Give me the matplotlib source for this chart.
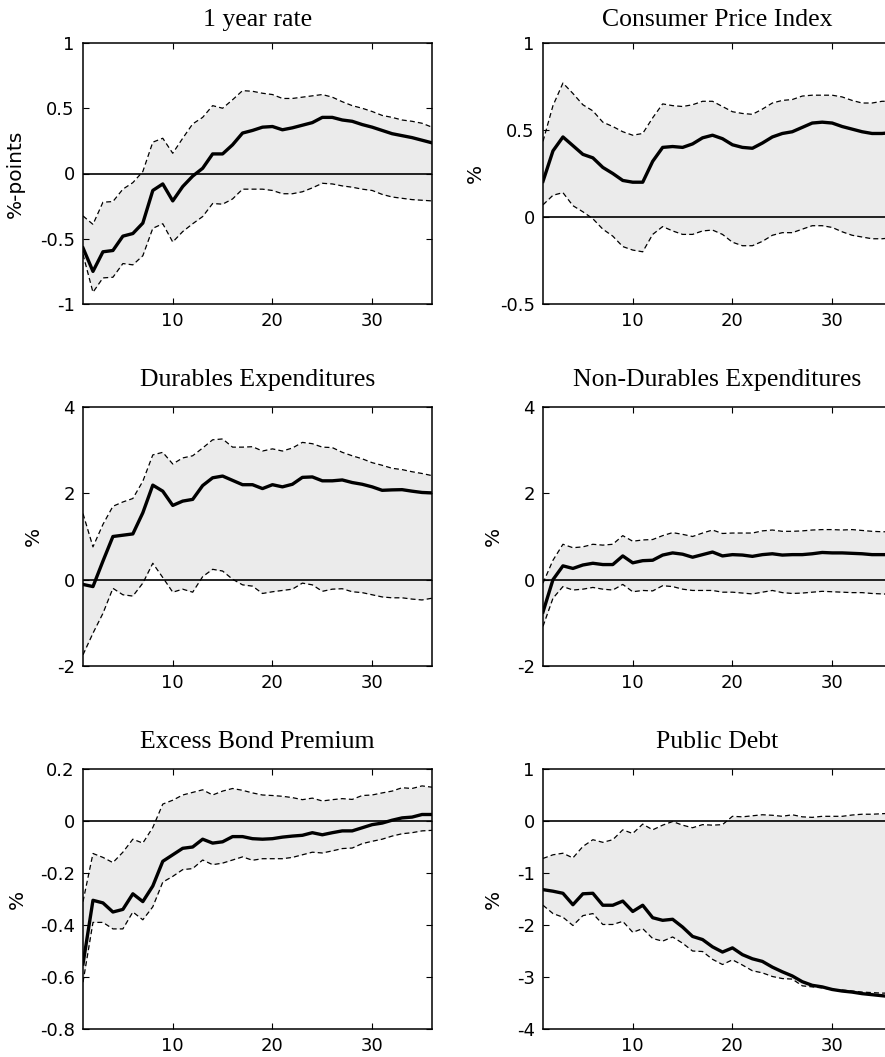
import numpy as np
import matplotlib
matplotlib.use("Agg")
import matplotlib.pyplot as plt

plt.rcParams["axes.unicode_minus"] = False

horizon = np.arange(1, 37)

rate_mid = [-0.57, -0.75, -0.60, -0.59, -0.48, -0.46, -0.38, -0.13, -0.08, -0.21, -0.10, -0.02,
            0.04, 0.15, 0.15, 0.22, 0.31, 0.33, 0.355, 0.36, 0.335, 0.35, 0.37, 0.39,
            0.43, 0.43, 0.41, 0.40, 0.375, 0.355, 0.33, 0.305, 0.29, 0.275, 0.255, 0.235]
rate_hi = [-0.325, -0.39, -0.22, -0.215, -0.12, -0.07, 0.015, 0.24, 0.27, 0.155, 0.27, 0.38,
           0.43, 0.52, 0.50, 0.565, 0.635, 0.63, 0.615, 0.605, 0.575, 0.575, 0.585, 0.595,
           0.605, 0.585, 0.55, 0.52, 0.50, 0.475, 0.445, 0.43, 0.41, 0.40, 0.385, 0.355]
rate_lo = [-0.62, -0.91, -0.80, -0.795, -0.69, -0.70, -0.63, -0.42, -0.385, -0.525, -0.445, -0.385,
           -0.33, -0.23, -0.235, -0.195, -0.12, -0.12, -0.12, -0.13, -0.155, -0.155, -0.14, -0.11,
           -0.075, -0.08, -0.095, -0.105, -0.12, -0.13, -0.16, -0.18, -0.19, -0.20, -0.205, -0.21]

cpi_mid = [0.205, 0.38, 0.46, 0.41, 0.36, 0.34, 0.285, 0.25, 0.21, 0.20, 0.20, 0.32,
           0.40, 0.405, 0.40, 0.42, 0.455, 0.47, 0.45, 0.415, 0.40, 0.395, 0.425, 0.46,
           0.48, 0.49, 0.515, 0.54, 0.545, 0.54, 0.52, 0.505, 0.49, 0.48, 0.48, 0.485]
cpi_hi = [0.435, 0.64, 0.77, 0.71, 0.645, 0.61, 0.545, 0.52, 0.49, 0.47, 0.48, 0.57,
          0.65, 0.64, 0.635, 0.645, 0.665, 0.665, 0.635, 0.605, 0.595, 0.59, 0.62, 0.655,
          0.67, 0.675, 0.695, 0.70, 0.70, 0.70, 0.69, 0.67, 0.655, 0.655, 0.665, 0.665]
cpi_lo = [0.07, 0.125, 0.14, 0.065, 0.03, -0.01, -0.07, -0.11, -0.17, -0.19, -0.20, -0.10,
          -0.055, -0.08, -0.10, -0.10, -0.08, -0.075, -0.10, -0.145, -0.165, -0.165, -0.14, -0.105,
          -0.09, -0.09, -0.07, -0.05, -0.05, -0.06, -0.085, -0.105, -0.115, -0.125, -0.125, -0.12]

dur_mid = [-0.11, -0.16, 0.43, 1.00, 1.03, 1.06, 1.55, 2.19, 2.05, 1.72, 1.82, 1.86,
           2.18, 2.36, 2.40, 2.30, 2.20, 2.20, 2.11, 2.20, 2.15, 2.21, 2.37, 2.38,
           2.29, 2.29, 2.31, 2.25, 2.21, 2.15, 2.07, 2.08, 2.085, 2.05, 2.02, 2.01]
dur_hi = [1.53, 0.76, 1.28, 1.70, 1.80, 1.88, 2.28, 2.89, 2.95, 2.68, 2.82, 2.87,
          3.05, 3.24, 3.26, 3.07, 3.07, 3.08, 2.98, 3.03, 2.98, 3.05, 3.18, 3.15,
          3.07, 3.06, 2.95, 2.87, 2.80, 2.71, 2.65, 2.58, 2.55, 2.50, 2.46, 2.41]
dur_lo = [-1.74, -1.24, -0.78, -0.20, -0.35, -0.38, -0.08, 0.38, 0.05, -0.29, -0.22, -0.29,
          0.07, 0.24, 0.20, 0.01, -0.12, -0.15, -0.32, -0.28, -0.25, -0.22, -0.08, -0.12,
          -0.27, -0.22, -0.21, -0.28, -0.30, -0.35, -0.40, -0.42, -0.42, -0.45, -0.47, -0.43]

nondur_mid = [-0.75, 0.0, 0.32, 0.26, 0.34, 0.38, 0.35, 0.35, 0.55, 0.39, 0.44, 0.45,
              0.57, 0.62, 0.59, 0.52, 0.58, 0.64, 0.55, 0.58, 0.57, 0.54, 0.58, 0.60,
              0.57, 0.58, 0.58, 0.60, 0.63, 0.62, 0.62, 0.61, 0.60, 0.58, 0.58, 0.58]
nondur_hi = [-0.08, 0.45, 0.82, 0.74, 0.76, 0.82, 0.80, 0.82, 1.02, 0.89, 0.92, 0.93,
             1.02, 1.09, 1.05, 1.00, 1.08, 1.15, 1.07, 1.08, 1.08, 1.08, 1.13, 1.15,
             1.12, 1.12, 1.13, 1.15, 1.16, 1.16, 1.15, 1.16, 1.14, 1.12, 1.11, 1.11]
nondur_lo = [-1.08, -0.43, -0.16, -0.24, -0.22, -0.18, -0.22, -0.24, -0.11, -0.28, -0.25, -0.26,
             -0.14, -0.16, -0.22, -0.25, -0.25, -0.25, -0.29, -0.29, -0.31, -0.33, -0.29, -0.25,
             -0.30, -0.32, -0.31, -0.29, -0.27, -0.28, -0.29, -0.30, -0.30, -0.32, -0.33, -0.34]

ebp_mid = [-0.55, -0.305, -0.315, -0.35, -0.34, -0.28, -0.31, -0.25, -0.155, -0.13, -0.105, -0.10,
           -0.07, -0.085, -0.08, -0.06, -0.06, -0.068, -0.07, -0.068, -0.062, -0.058, -0.055, -0.045,
           -0.053, -0.045, -0.038, -0.038, -0.026, -0.014, -0.008, 0.003, 0.012, 0.015, 0.025, 0.025]
ebp_hi = [-0.31, -0.125, -0.14, -0.16, -0.12, -0.07, -0.085, -0.025, 0.065, 0.08, 0.10, 0.11,
          0.12, 0.10, 0.115, 0.125, 0.118, 0.108, 0.10, 0.098, 0.095, 0.09, 0.082, 0.088,
          0.077, 0.082, 0.086, 0.083, 0.098, 0.10, 0.108, 0.115, 0.128, 0.125, 0.135, 0.13]
ebp_lo = [-0.62, -0.39, -0.39, -0.415, -0.415, -0.35, -0.38, -0.33, -0.235, -0.213, -0.187, -0.183,
          -0.15, -0.168, -0.162, -0.15, -0.138, -0.151, -0.145, -0.145, -0.145, -0.14, -0.13, -0.12,
          -0.123, -0.115, -0.106, -0.104, -0.087, -0.078, -0.07, -0.058, -0.049, -0.045, -0.038, -0.036]

debt_mid = [-1.32, -1.35, -1.39, -1.61, -1.40, -1.39, -1.62, -1.62, -1.54, -1.74, -1.62, -1.86,
            -1.91, -1.89, -2.04, -2.22, -2.28, -2.42, -2.52, -2.44, -2.57, -2.65, -2.70, -2.81,
            -2.90, -2.98, -3.09, -3.16, -3.19, -3.24, -3.27, -3.29, -3.32, -3.34, -3.36, -3.38]
debt_hi = [-0.72, -0.65, -0.62, -0.71, -0.49, -0.36, -0.41, -0.36, -0.17, -0.24, -0.06, -0.17,
           -0.08, -0.01, -0.08, -0.13, -0.07, -0.08, -0.07, 0.09, 0.08, 0.10, 0.12, 0.11,
           0.09, 0.12, 0.08, 0.07, 0.09, 0.09, 0.09, 0.115, 0.13, 0.13, 0.14, 0.15]
debt_lo = [-1.62, -1.78, -1.85, -2.01, -1.82, -1.78, -1.99, -1.99, -1.93, -2.14, -2.07, -2.26,
           -2.31, -2.23, -2.35, -2.50, -2.51, -2.66, -2.76, -2.67, -2.77, -2.88, -2.92, -2.99,
           -3.03, -3.04, -3.17, -3.19, -3.21, -3.24, -3.25, -3.27, -3.29, -3.30, -3.31, -3.31]

titles = ["1 year rate", "Consumer Price Index", "Durables Expenditures",
          "Non-Durables Expenditures", "Excess Bond Premium", "Public Debt"]
ylabels = ["%-points", "%", "%", "%", "%", "%"]
yticks = [[-1, -0.5, 0, 0.5, 1],
          [-0.5, 0, 0.5, 1],
          [-2, 0, 2, 4],
          [-2, 0, 2, 4],
          [-0.8, -0.6, -0.4, -0.2, 0, 0.2],
          [-4, -3, -2, -1, 0, 1]]
ytick_labels = [["-1", "-0.5", "0", "0.5", "1"],
                ["-0.5", "0", "0.5", "1"],
                ["-2", "0", "2", "4"],
                ["-2", "0", "2", "4"],
                ["-0.8", "-0.6", "-0.4", "-0.2", "0", "0.2"],
                ["-4", "-3", "-2", "-1", "0", "1"]]
series = [(rate_mid, rate_lo, rate_hi), (cpi_mid, cpi_lo, cpi_hi),
          (dur_mid, dur_lo, dur_hi), (nondur_mid, nondur_lo, nondur_hi),
          (ebp_mid, ebp_lo, ebp_hi), (debt_mid, debt_lo, debt_hi)]

W, H = 885, 1057
fig = plt.figure(figsize=(W / 100, H / 100), dpi=100)

col_left = [83, 543]
ax_w = 349
rows = [(43, 304), (407, 666), (769, 1029)]
label_x = [-0.166, -0.166, -0.115, -0.115, -0.16, -0.115]
title_pad = [12, 15, 15]

tick_font = "DejaVu Sans"
title_font = "Liberation Serif"

for i in range(6):
    r, c = divmod(i, 2)
    top, bot = rows[r]
    ax = fig.add_axes([col_left[c] / W, 1 - bot / H, ax_w / W, (bot - top) / H])
    mid, lo, hi = series[i]

    ax.fill_between(horizon, lo, hi, color="#ebebeb", lw=0, zorder=1)
    ax.axhline(0, color="black", lw=1.2, zorder=2)
    ax.plot(horizon, hi, color="black", lw=0.9, ls=(0, (4, 2.5)), zorder=3)
    ax.plot(horizon, lo, color="black", lw=0.9, ls=(0, (4, 2.5)), zorder=3)
    ax.plot(horizon, mid, color="black", lw=2.4, zorder=4)

    ax.set_xlim(1, 36)
    ax.set_ylim(yticks[i][0], yticks[i][-1])
    ax.set_xticks([10, 20, 30])
    ax.set_xticklabels(["10", "20", "30"], fontfamily=tick_font, fontsize=13)
    ax.set_yticks(yticks[i])
    ax.set_yticklabels(ytick_labels[i], fontfamily=tick_font, fontsize=13)
    ax.tick_params(direction="in", top=True, right=True, length=4, width=0.8, pad=6)
    for s in ax.spines.values():
        s.set_linewidth(1.1)

    ax.set_title(titles[i], fontfamily=title_font, fontsize=18.5, pad=title_pad[r])
    ax.set_ylabel(ylabels[i], fontfamily=tick_font, fontsize=14.5)
    ax.yaxis.set_label_coords(label_x[i], 0.5)

fig.savefig("out.png", dpi=100)
